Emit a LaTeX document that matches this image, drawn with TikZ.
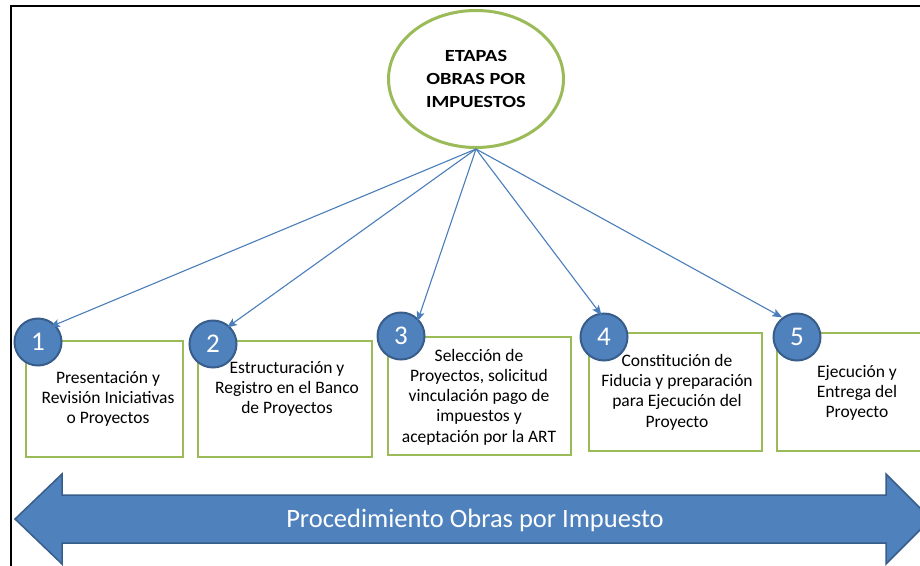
\documentclass[tikz,border=0pt]{standalone}
\usepackage{fontspec}
\setmainfont{Carlito}
\newfontfamily\widefont[FakeStretch=1.2]{Carlito}
\usetikzlibrary{arrows.meta,shapes.geometric}
\definecolor{gborder}{HTML}{9BBB59}
\definecolor{bfill}{HTML}{4F81BD}
\definecolor{bdark}{HTML}{385D8A}
\definecolor{aline}{HTML}{4A7EBB}
\begin{document}
\begin{tikzpicture}[x=1pt,y=-1pt,
  stepbox/.style={draw=gborder, line width=2.5pt, fill=white, rectangle, inner sep=0pt},
  numcirc/.style={circle, draw=bdark, line width=2pt, fill=bfill, minimum size=47pt, inner sep=0pt, text=white, font=\fontsize{27}{27}\selectfont},
  boxtext/.style={align=center, inner sep=0pt, font=\fontsize{17.5}{20.3}\selectfont},
  conn/.style={draw=aline, line width=1.1pt, -{Stealth[length=10pt,width=8pt,inset=2pt]}},
  bigarrow/.style={fill=bfill, draw=bdark, line width=1.5pt, line join=miter}
]
\useasboundingbox (0,0) rectangle (920,565);
\clip (0,0) rectangle (920,565);
\fill[white] (0,0) rectangle (920,565);

% frame
\draw[line width=1.8pt] (11,590) -- (11,6) -- (940,6);

% central ellipse
\node[ellipse, draw=gborder, line width=3pt, fill=white, minimum width=175pt, minimum height=137pt, inner sep=0pt,
      align=center, font=\widefont\bfseries\fontsize{17}{23}\selectfont] (ell) at (476,79)
      {ETAPAS\\OBRAS POR\\IMPUESTOS};

% boxes
\node[stepbox, minimum width=157pt, minimum height=116pt] (b1) at (104.5,399) {};
\node[stepbox, minimum width=174pt, minimum height=116pt] (b2) at (285,399) {};
\node[stepbox, minimum width=183pt, minimum height=118pt] (b3) at (479.5,396) {};
\node[stepbox, minimum width=173pt, minimum height=118pt] (b4) at (675.5,392) {};
\node[stepbox, minimum width=170pt, minimum height=118pt] (b5) at (862,392) {};

% box texts
\node[boxtext] (t1) at (108,399) {Presentación y\\Revisión Iniciativas\\o Proyectos};
\node[boxtext] (t2) at (287,389) {Estructuración y\\Registro en el Banco\\de Proyectos};
\node[boxtext] (t3) at (479,397) {Selección de\\Proyectos, solicitud\\vinculación pago de\\impuestos y\\aceptación por la ART};
\node[boxtext] (t4) at (677,392) {Constitución de\\Fiducia y preparación\\para Ejecución del\\Proyecto};
\node[boxtext] (t5) at (857,393) {Ejecución y\\Entrega del\\Proyecto};

% number circles
\node[numcirc] (c1) at (38,342) {1};
\node[numcirc] (c2) at (213,344) {2};
\node[numcirc] (c3) at (401,336) {3};
\node[numcirc] (c4) at (604,337) {4};
\node[numcirc] (c5) at (797,337) {5};

% connectors
\draw[conn, shorten >=-6pt] (ell.south) -- (c1.45);
\draw[conn, shorten >=-3pt] (ell.south) -- (c2.48);
\draw[conn, shorten >=-3pt] (ell.south) -- (c3.45);
\draw[conn, shorten >=-3pt] (ell.south) -- (c4.100);
\draw[conn] (ell.south) -- (c5.127);

% bottom double arrow
\draw[bigarrow] (15,519) -- (62,474) -- (62,495) -- (886,495) -- (886,474) -- (931,519)
  -- (886,564) -- (886,543) -- (62,543) -- (62,564) -- cycle;
\node[text=white, font=\fontsize{26.5}{26.5}\selectfont, inner sep=0pt] (proc) at (475,520)
  {Procedimiento Obras por Impuesto};
\end{tikzpicture}
\end{document}
